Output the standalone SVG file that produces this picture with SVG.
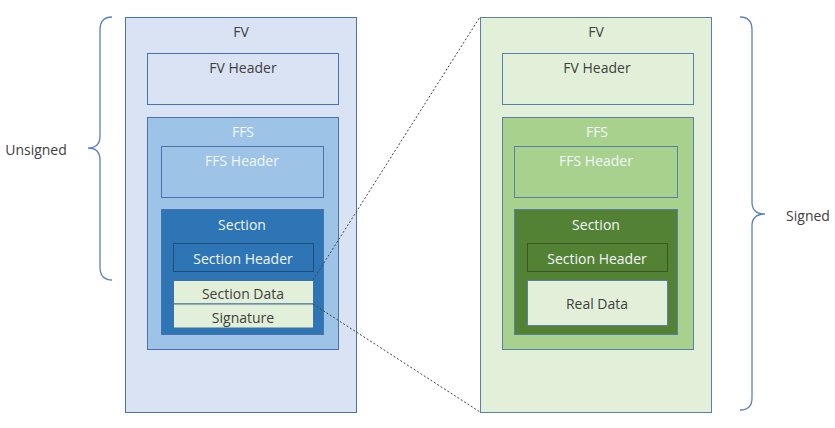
<svg xmlns="http://www.w3.org/2000/svg" width="835" height="428" viewBox="0 0 835 428">
<style>
text{font-family:"Open Sans","Liberation Sans",sans-serif;font-size:14px;text-anchor:middle;dominant-baseline:central}
.dk{fill:#404040}
.wt{fill:#ffffff}
.lt{fill:#f2f7fd}
.b{stroke:#4a72b0;stroke-width:1}
.g{stroke:#5a7fa8;stroke-width:1}
.brace{fill:none;stroke:#5b80c0;stroke-width:1.3}
.dot{fill:none;stroke:#404040;stroke-width:1;stroke-dasharray:2 2}
</style>
<rect width="835" height="428" fill="#ffffff"/>
<g id="left-fv">
<rect x="125.5" y="17.5" width="231" height="395" fill="#dae3f3" class="b"/>
<text x="241" y="31" class="dk">FV</text>
</g>
<g id="left-fv-header">
<rect x="147.5" y="53.5" width="191" height="51" fill="#dae3f3" class="b"/>
<text x="243" y="67" class="dk">FV Header</text>
</g>
<g id="left-ffs">
<rect x="147.5" y="117.5" width="191" height="232" fill="#9dc3e6" class="b"/>
<text x="243" y="131" class="lt">FFS</text>
</g>
<g id="left-ffs-header">
<rect x="161.5" y="146.5" width="162" height="51" fill="#9dc3e6" class="b"/>
<text x="242" y="160" class="lt">FFS Header</text>
</g>
<g id="left-section">
<rect x="161.5" y="209.5" width="162" height="125" fill="#2e75b6" class="b"/>
<text x="242" y="224" class="lt">Section</text>
</g>
<g id="left-section-header">
<rect x="173.5" y="243.5" width="140" height="28" fill="#2e75b6" stroke="#1f4e79" stroke-width="1"/>
<text x="243" y="258" class="lt">Section Header</text>
</g>
<g id="left-section-data">
<rect x="173.5" y="280.5" width="140" height="23.5" fill="#e2efd9" stroke="#41719c" stroke-width="1"/>
<text x="243" y="293" class="dk">Section Data</text>
</g>
<g id="left-signature">
<rect x="173.5" y="304" width="140" height="24" fill="#e2efd9" stroke="#41719c" stroke-width="1"/>
<text x="243" y="317" class="dk">Signature</text>
</g>
<g id="right-fv">
<rect x="480.5" y="17.5" width="231" height="395" fill="#e2f0d9" class="g"/>
<text x="596" y="31" class="dk">FV</text>
</g>
<g id="right-fv-header">
<rect x="502.5" y="53.5" width="191" height="51" fill="#e2f0d9" class="g"/>
<text x="597" y="67" class="dk">FV Header</text>
</g>
<g id="right-ffs">
<rect x="502.5" y="117.5" width="191" height="232" fill="#a9d18e" class="g"/>
<text x="597" y="131" class="lt">FFS</text>
</g>
<g id="right-ffs-header">
<rect x="514.5" y="146.5" width="163" height="51" fill="#a9d18e" class="g"/>
<text x="596" y="160" class="lt">FFS Header</text>
</g>
<g id="right-section">
<rect x="514.5" y="209.5" width="163" height="125" fill="#548235" class="g"/>
<text x="596" y="224" class="lt">Section</text>
</g>
<g id="right-section-header">
<rect x="527.5" y="243.5" width="140" height="28" fill="#548235" stroke="#385723" stroke-width="1"/>
<text x="597" y="258" class="lt">Section Header</text>
</g>
<g id="right-real-data">
<rect x="527.5" y="280.5" width="140" height="45" fill="#e2f0d9" stroke="#5a7fa8" stroke-width="1"/>
<text x="597" y="303" class="dk">Real Data</text>
</g>
<g id="unsigned-brace">
<path class="brace" d="M112,17 Q100,17 100,30 L100,136 Q100,148 88,148 Q100,148 100,160 L100,267 Q100,280 112,280"/>
<text x="36" y="149" class="dk">Unsigned</text>
</g>
<g id="signed-brace">
<path class="brace" d="M740,17 Q752,17 752,30 L752,202 Q752,214 765,214 Q752,214 752,226 L752,398 Q752,410 740,410"/>
<text x="808" y="215" class="dk">Signed</text>
</g>
<g id="connectors">
<line class="dot" x1="313" y1="280" x2="480" y2="17"/>
<line class="dot" x1="313" y1="304" x2="480" y2="412"/>
</g>
</svg>
